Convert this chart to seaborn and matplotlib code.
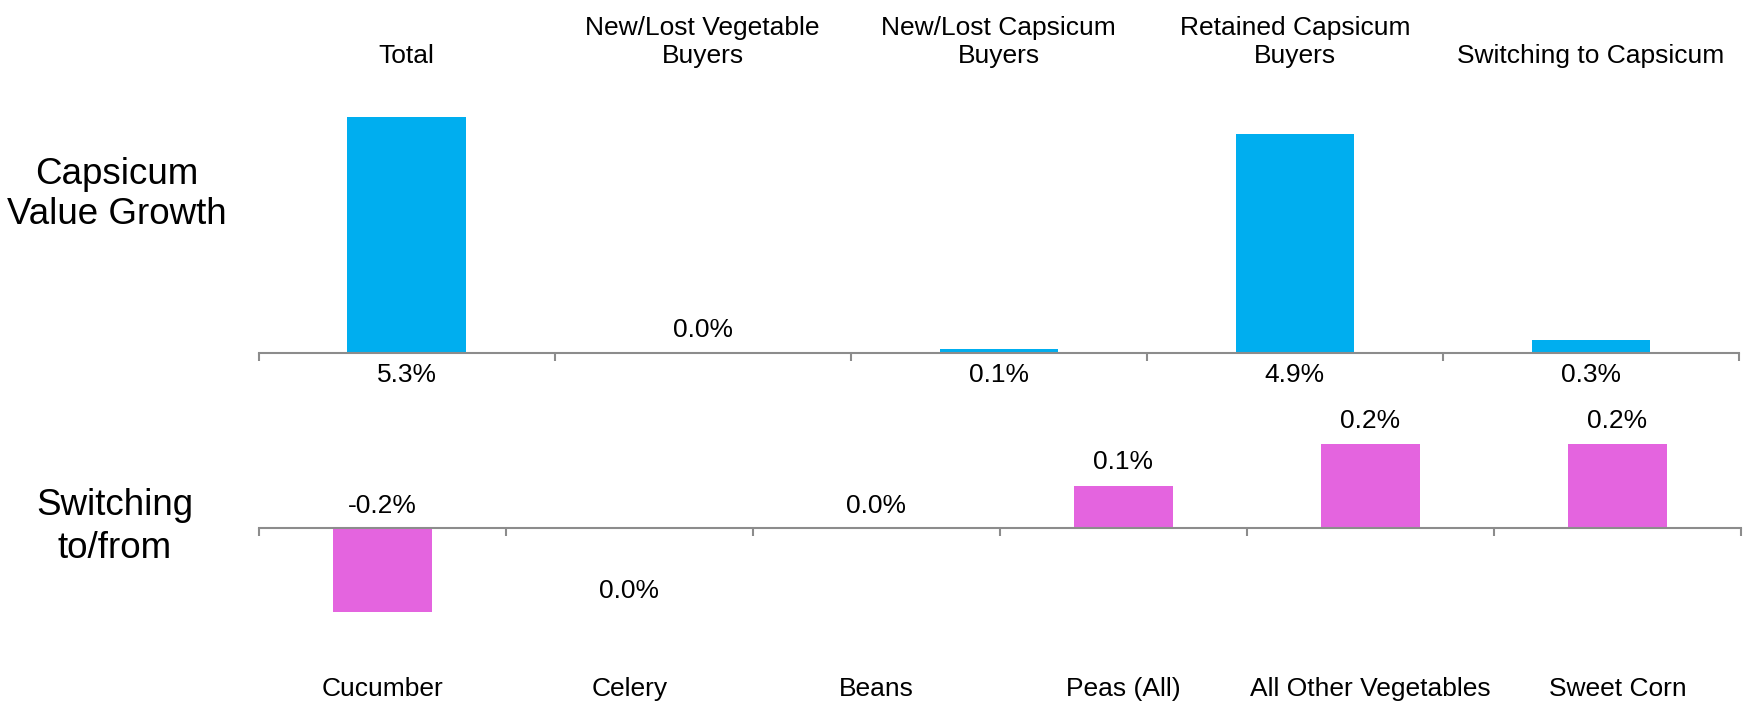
import matplotlib
matplotlib.use("Agg")
import numpy as np
import pandas as pd
import matplotlib.pyplot as plt
import seaborn as sns

# Capsicum value growth decomposition (%)
growth_categories = ["Total", "New/Lost Vegetable\nBuyers", "New/Lost Capsicum\nBuyers",
                     "Retained Capsicum\nBuyers", "Switching to Capsicum"]
growth_values = [5.3, 0.0, 0.1, 4.9, 0.3]

# Switching to/from other vegetables (%)
switch_categories = ["Cucumber", "Celery", "Beans", "Peas (All)",
                     "All Other Vegetables", "Sweet Corn"]
switch_values = [-0.2, 0.0, 0.0, 0.1, 0.2, 0.2]

# vertical offsets (points) of the value labels from their anchor
growth_label_offsets = [-16, 16.5, -16, -16, -16]
switch_label_offsets = [15.5, -45.5, 15.5, 17, 16.5, 16.5]

BLUE = "#00AEEF"
PINK = "#E464DF"
AXIS_GREY = "#8C8C8C"
FS = 19

sns.set_theme(style="white")
plt.rcParams["font.family"] = ["Liberation Sans", "DejaVu Sans"]
plt.rcParams["text.color"] = "black"

W, H = 1748, 703
fig = plt.figure(figsize=(W / 100, H / 100), dpi=100)
fig.patch.set_facecolor("white")


def rect(x0, y_top, x1, y_bot):
    return [x0 / W, 1 - y_bot / H, (x1 - x0) / W, (y_bot - y_top) / H]


def draw_panel(ax, cats, vals, color):
    df = pd.DataFrame({"category": cats, "value": vals})
    sns.barplot(data=df, x="category", y="value", color=color, width=0.4,
                saturation=1, errorbar=None, linewidth=0, ax=ax)
    n = len(cats)
    ax.set_xlim(-0.5, n - 0.5)
    ax.set_xticks(np.arange(n))
    ax.set_xticks(np.arange(n + 1) - 0.5, minor=True)
    ax.set_xticklabels(cats)
    ax.set_yticks([])
    ax.set_xlabel("")
    ax.set_ylabel("")
    ax.set_facecolor("none")
    for s in ax.spines.values():
        s.set_visible(False)


# top panel: value growth
ax1 = fig.add_axes(rect(258.6, 68, 1739, 400))
draw_panel(ax1, growth_categories, growth_values, BLUE)
ax1.set_ylim(-(400 - 353) / 44.6, (353 - 68) / 44.6)
ax1.spines["bottom"].set_visible(True)
ax1.spines["bottom"].set_position(("data", 0))
ax1.spines["bottom"].set_color(AXIS_GREY)
ax1.spines["bottom"].set_linewidth(1.5)
ax1.tick_params(axis="x", which="major", bottom=False, top=False,
                labelbottom=False, labeltop=True, length=0, pad=0,
                labelsize=FS, labelcolor="black")
ax1.tick_params(axis="x", which="minor", bottom=True, top=False,
                direction="out", length=6, width=1.5, color=AXIS_GREY)
for i, (v, off) in enumerate(zip(growth_values, growth_label_offsets)):
    ax1.annotate(f"{v:.1f}%", xy=(i, 0), xytext=(0, off), textcoords="offset points",
                 ha="center", va="center", fontsize=FS)

# bottom panel: switching
ax2 = fig.add_axes(rect(258.6, 390, 1741, 670))
draw_panel(ax2, switch_categories, switch_values, PINK)
ax2.set_ylim(-(670 - 528) / 419, (528 - 390) / 419)
ax2.spines["top"].set_visible(True)
ax2.spines["top"].set_position(("data", 0))
ax2.spines["top"].set_color(AXIS_GREY)
ax2.spines["top"].set_linewidth(1.5)
ax2.tick_params(axis="x", which="major", bottom=False, top=False,
                labelbottom=True, labeltop=False, length=0, pad=5,
                labelsize=FS, labelcolor="black")
ax2.tick_params(axis="x", which="minor", bottom=False, top=True,
                direction="in", length=6, width=1.5, color=AXIS_GREY)
for i, (v, off) in enumerate(zip(switch_values, switch_label_offsets)):
    ax2.annotate(f"{v:.1f}%", xy=(i, max(v, 0)), xytext=(0, off), textcoords="offset points",
                 ha="center", va="center", fontsize=FS)

# row titles
fig.text(117 / W, 1 - 194.5 / H, "Capsicum\nValue Growth", ha="center", va="center",
         fontsize=26.5, linespacing=1.2)
fig.text(115 / W, 1 - 527 / H, "Switching\nto/from", ha="center", va="center",
         fontsize=26.5, linespacing=1.3)

fig.savefig("out.png", dpi=100, facecolor="white")
